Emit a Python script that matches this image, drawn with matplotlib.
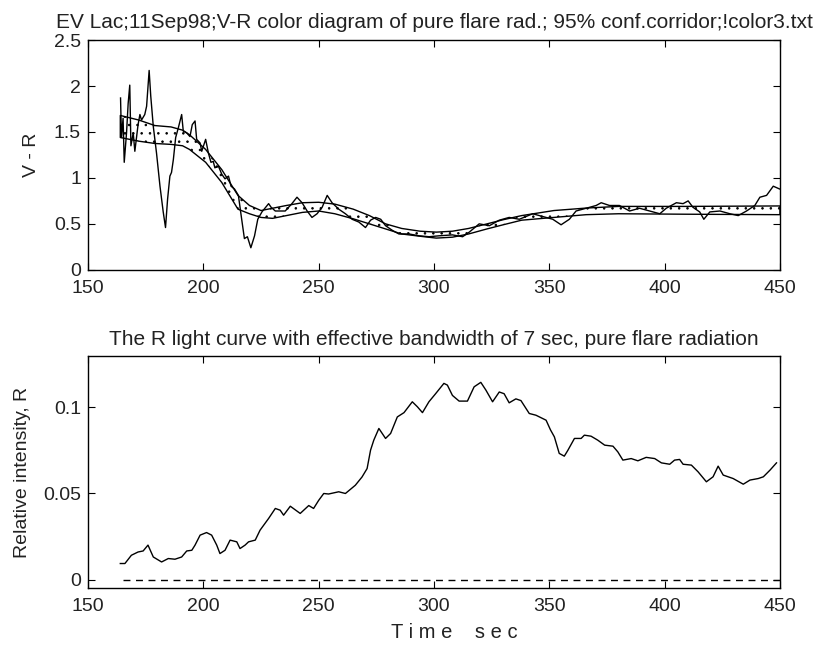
import numpy as np
import matplotlib.pyplot as plt

plt.rcParams['font.family'] = ['Liberation Sans', 'DejaVu Sans']
plt.rcParams['hatch.linewidth'] = 0.6
plt.rcParams['text.color'] = '#222222'
plt.rcParams['axes.labelcolor'] = '#222222'
plt.rcParams['xtick.labelcolor'] = '#222222'
plt.rcParams['ytick.labelcolor'] = '#222222'

# V-R colour index, observed
t_vr = [164.1, 164.5, 165.2, 165.7, 166.7, 167.4, 168.1, 168.6, 169.6, 170.3,
        171.7, 172.5, 173.2, 174.6, 175.4, 176.5, 177.2, 178.3, 179.7, 181.2,
        182.6, 183.6, 184.5, 185.5, 186.2, 187.0, 188.0, 189.1, 190.6, 191.3,
        192.8, 194.2, 195.2, 196.4, 197.1, 198.6, 199.3, 201.0, 202.2, 203.3,
        204.3, 205.0, 206.5, 208.0, 209.4, 210.9, 212.0, 213.5, 215.2, 216.4,
        217.8, 219.1, 220.6, 222.2, 223.6, 225.4, 228.3, 229.4, 231.2, 234.1,
        235.5, 238.4, 240.6, 242.8, 245.0, 247.1, 249.3, 251.5, 253.7, 255.8,
        258.7, 261.6, 264.5, 267.4, 270.3, 272.5, 274.7, 276.9, 279.0, 281.9,
        284.8, 289.2, 293.5, 297.9, 302.2, 308.0, 312.4, 315.3, 319.6, 324.0,
        328.3, 332.6, 337.0, 342.8, 348.6, 351.5, 355.1, 358.7, 361.6, 366.0,
        370.3, 372.5, 376.1, 380.4, 384.8, 389.1, 393.5, 397.9, 400.7, 405.1,
        408.0, 410.2, 412.3, 415.2, 417.0, 419.6, 424.0, 428.3, 431.9, 435.5,
        439.1, 441.3, 444.2, 447.1, 449.8]
vr = [1.87, 1.44, 1.65, 1.17, 1.49, 1.81, 2.01, 1.35, 1.49, 1.29,
      1.58, 1.69, 1.63, 1.69, 1.78, 2.17, 1.89, 1.56, 1.27, 0.91,
      0.63, 0.46, 0.77, 1.02, 1.06, 1.20, 1.44, 1.54, 1.69, 1.51,
      1.49, 1.45, 1.58, 1.62, 1.42, 1.38, 1.29, 1.42, 1.27, 1.17,
      1.18, 1.11, 1.13, 1.04, 0.99, 1.02, 0.91, 0.88, 0.81, 0.59,
      0.34, 0.36, 0.24, 0.37, 0.55, 0.63, 0.72, 0.68, 0.64, 0.64,
      0.64, 0.72, 0.79, 0.73, 0.64, 0.57, 0.61, 0.68, 0.81, 0.73,
      0.66, 0.61, 0.55, 0.52, 0.46, 0.54, 0.57, 0.55, 0.48, 0.43,
      0.39, 0.39, 0.37, 0.36, 0.37, 0.38, 0.36, 0.41, 0.50, 0.48,
      0.54, 0.57, 0.55, 0.61, 0.57, 0.55, 0.49, 0.55, 0.64, 0.67,
      0.70, 0.73, 0.70, 0.70, 0.64, 0.67, 0.64, 0.61, 0.67, 0.73,
      0.72, 0.75, 0.68, 0.63, 0.55, 0.63, 0.64, 0.61, 0.59, 0.64,
      0.70, 0.79, 0.81, 0.91, 0.88]

# 95% confidence corridor
t_band = [164, 172, 179, 186, 191, 194, 201, 208, 215, 220, 225, 230, 236,
          243, 250, 257, 265, 272, 279, 286, 294, 301, 308, 315, 323, 330,
          338, 352, 366, 380, 409, 450]
band_hi = [1.68, 1.63, 1.57, 1.555, 1.52, 1.47, 1.31, 1.09, 0.81, 0.70, 0.645,
           0.67, 0.70, 0.73, 0.735, 0.715, 0.66, 0.59, 0.50, 0.45, 0.42, 0.41,
           0.42, 0.45, 0.50, 0.545, 0.59, 0.645, 0.672, 0.69, 0.69, 0.695]
band_lo = [1.44, 1.40, 1.375, 1.365, 1.35, 1.31, 1.17, 0.95, 0.66, 0.61, 0.57,
           0.56, 0.59, 0.625, 0.64, 0.61, 0.555, 0.50, 0.445, 0.39, 0.365,
           0.345, 0.355, 0.39, 0.445, 0.49, 0.54, 0.57, 0.60, 0.61, 0.605, 0.60]

# R light curve, pure flare radiation
t_r = [164.0, 166.0, 168.8, 171.7, 173.9, 176.0, 178.3, 181.9, 184.8, 187.7,
       190.6, 192.8, 195.0, 196.4, 198.6, 201.4, 203.6, 205.8, 207.2, 209.4,
       211.6, 214.5, 215.9, 218.1, 219.6, 222.5, 224.6, 228.3, 231.2, 233.3,
       234.8, 237.7, 242.0, 245.7, 247.8, 250.0, 252.2, 254.3, 258.7, 261.6,
       265.9, 268.8, 271.0, 272.5, 273.9, 276.1, 279.0, 281.2, 284.1, 287.0,
       290.6, 292.8, 295.0, 297.8, 300.7, 304.3, 305.8, 308.0, 310.9, 314.5,
       317.4, 320.3, 322.5, 325.4, 328.3, 330.4, 332.6, 335.5, 337.7, 341.3,
       344.2, 348.6, 350.5, 352.2, 354.3, 356.5, 358.0, 360.9, 363.8, 365.2,
       368.1, 371.0, 374.0, 377.6, 379.7, 381.9, 385.5, 388.4, 392.0, 395.7,
       398.6, 402.2, 404.3, 406.5, 408.0, 411.6, 414.5, 418.1, 421.0, 423.2,
       425.4, 429.7, 434.1, 437.0, 440.6, 442.8, 445.7, 448.5]
r_int = [0.0093, 0.0093, 0.0141, 0.0160, 0.0166, 0.0200, 0.0131, 0.0102, 0.0122, 0.0118,
         0.0131, 0.0166, 0.0170, 0.0200, 0.0258, 0.0273, 0.0258, 0.0200, 0.0151, 0.0170,
         0.0229, 0.0219, 0.0180, 0.0200, 0.0219, 0.0229, 0.0287, 0.0355, 0.0413, 0.0403,
         0.0374, 0.0426, 0.0384, 0.0430, 0.0413, 0.0460, 0.0500, 0.0497, 0.0510, 0.0500,
         0.0548, 0.0596, 0.0645, 0.0752, 0.0810, 0.0878, 0.0820, 0.0849, 0.0945, 0.0970,
         0.1033, 0.1004, 0.0970, 0.1033, 0.1080, 0.1140, 0.1130, 0.1070, 0.1037, 0.1037,
         0.1120, 0.1146, 0.1101, 0.1033, 0.1090, 0.1080, 0.1027, 0.1050, 0.1040, 0.0965,
         0.0955, 0.0926, 0.0870, 0.0829, 0.0733, 0.0717, 0.0750, 0.0820, 0.0820, 0.0839,
         0.0833, 0.0810, 0.0781, 0.0775, 0.0742, 0.0694, 0.0703, 0.0690, 0.0710, 0.0703,
         0.0678, 0.0670, 0.0694, 0.0698, 0.0670, 0.0665, 0.0626, 0.0568, 0.0597, 0.0659,
         0.0607, 0.0587, 0.0554, 0.0578, 0.0587, 0.0597, 0.0636, 0.0678]

fig = plt.figure(figsize=(8.15, 6.47), dpi=100)

# top panel: colour diagram
ax1 = fig.add_axes([0.108, 0.583, 0.849, 0.355])
ax1.fill_between(t_band, band_lo, band_hi, facecolor='none', edgecolor='k',
                 hatch='..', linewidth=1.0)
ax1.plot(t_vr, vr, color='k', linewidth=1.0)
ax1.set_xlim(150, 450)
ax1.set_ylim(0, 2.5)
ax1.set_yticks([0, 0.5, 1, 1.5, 2, 2.5])
ax1.set_yticklabels(['0', '0.5', '1', '1.5', '2', '2.5'])
ax1.set_ylabel('V - R', fontsize=14, labelpad=10)
ax1.set_title('EV Lac;11Sep98;V-R color diagram of pure flare rad.; 95% conf.corridor;!color3.txt',
              fontsize=15, pad=9)

# bottom panel: light curve
ax2 = fig.add_axes([0.108, 0.091, 0.849, 0.359])
ax2.plot(t_r, r_int, color='k', linewidth=1.0)
ax2.plot([165, 450], [0, 0], color='k', linestyle='--', linewidth=1.0, dashes=(5, 4))
ax2.set_xlim(150, 450)
ax2.set_ylim(-0.005, 0.13)
ax2.set_yticks([0, 0.05, 0.1])
ax2.set_yticklabels(['0', '0.05', '0.1'])
ax2.set_ylabel('Relative intensity, R', fontsize=14, labelpad=9)
ax2.set_xlabel('T i m e    s e c', fontsize=14.5)
ax2.xaxis.set_label_coords(0.53, -0.15)
ax2.set_title('The R light curve with effective bandwidth of 7 sec, pure flare radiation',
              fontsize=15, pad=8)

for ax in (ax1, ax2):
    ax.set_xticks([150, 200, 250, 300, 350, 400, 450])
    ax.tick_params(direction='in', top=True, right=True, labelsize=14, length=5)
    ax.tick_params(axis='x', pad=7)
    ax.tick_params(axis='y', pad=5)
    for s in ax.spines.values():
        s.set_linewidth(1.0)

fig.savefig('out.png', dpi=100)
